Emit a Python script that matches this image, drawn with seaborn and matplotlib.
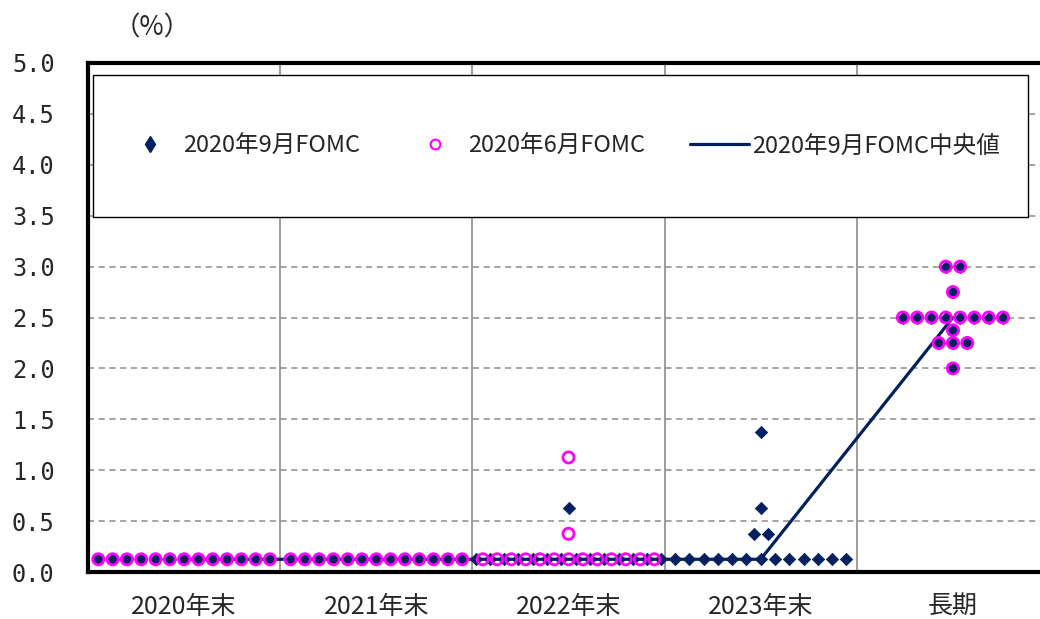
import numpy as np
import pandas as pd
import matplotlib
matplotlib.use("Agg")
import matplotlib.pyplot as plt
from matplotlib.lines import Line2D
from matplotlib.patches import Rectangle
from matplotlib.ticker import FixedLocator, FormatStrFormatter
import seaborn as sns

# --- data ---
categories = ['2020年末', '2021年末', '2022年末', '2023年末', '長期']

# Sept 2020 FOMC dots: category index, rate level, number of dots at that level
sep_cat = [0, 1, 2, 2, 3, 3, 3, 3, 4, 4, 4, 4, 4, 4]
sep_rate = [0.125, 0.125, 0.125, 0.625, 0.125, 0.375, 0.625, 1.375,
            2.0, 2.25, 2.375, 2.5, 2.75, 3.0]
sep_count = [13, 13, 14, 1, 13, 2, 1, 1, 1, 3, 1, 8, 1, 2]

# June 2020 FOMC dots
jun_cat = [0, 1, 2, 2, 2, 4, 4, 4, 4, 4, 4]
jun_rate = [0.125, 0.125, 0.125, 0.375, 1.125, 2.0, 2.25, 2.375, 2.5, 2.75, 3.0]
jun_count = [13, 13, 13, 1, 1, 1, 3, 1, 8, 1, 2]

# Sept 2020 FOMC median
sep_median = [0.125, 0.125, 0.125, 0.125, 2.5]

labels = ['2020年9月FOMC', '2020年6月FOMC', '2020年9月FOMC中央値']

NAVY = '#002060'
MAGENTA = '#FF00FF'
GRID = '#8C8C8C'
DOT_STEP = 0.0744  # horizontal spacing of dots within a category


def spread_dots(cats, rates, counts):
    """Expand (category, level, count) rows to one row per dot, centred on the category."""
    rows = []
    for c, r, n in zip(cats, rates, counts):
        for i in range(n):
            rows.append({'x': c + (i - (n - 1) / 2) * DOT_STEP, 'rate': r})
    return pd.DataFrame(rows)


sep_df = spread_dots(sep_cat, sep_rate, sep_count)
jun_df = spread_dots(jun_cat, jun_rate, jun_count)
med_df = pd.DataFrame({'x': range(len(categories)), 'rate': sep_median})

sns.set_style('white')
plt.rcParams['font.family'] = ['Noto Sans CJK JP', 'DejaVu Sans']

fig = plt.figure(figsize=(10.4, 6.19), dpi=100)
ax = fig.add_axes([88 / 1040, 47 / 619, (1049 - 88) / 1040, (572 - 63) / 619])

# grid
for y in np.arange(0.5, 5.0, 0.5):
    ax.axhline(y, color=GRID, lw=1.1, ls=(0, (4, 3)), zorder=0)
for xb in np.arange(0.5, len(categories) - 1, 1.0):
    ax.axvline(xb, color=GRID, lw=1.2, zorder=0)

sns.lineplot(data=med_df, x='x', y='rate', color=NAVY, lw=2.3, ax=ax, zorder=2)
sns.scatterplot(data=sep_df, x='x', y='rate', marker='D', s=40, color=NAVY,
                edgecolor=NAVY, linewidth=0.5, ax=ax, zorder=3)
sns.scatterplot(data=jun_df, x='x', y='rate', marker='o', s=64, color=MAGENTA,
                facecolors='none', edgecolor=MAGENTA, linewidth=2.0, ax=ax, zorder=4)

ax.set_xlim(-0.5, len(categories) - 0.5)
ax.set_ylim(0, 5)
ax.set_xlabel('')
ax.set_ylabel('')

ax.set_yticks(np.arange(0, 5.01, 0.5))
ax.yaxis.set_major_formatter(FormatStrFormatter('%.1f'))
ax.tick_params(axis='y', direction='in', length=5, width=1, pad=24, labelsize=17)
for t in ax.get_yticklabels():
    t.set_family('DejaVu Sans Mono')

ax.set_xticks(range(len(categories)))
ax.set_xticklabels(categories)
ax.xaxis.set_minor_locator(FixedLocator(np.arange(0.5, len(categories) - 1, 1.0)))
ax.tick_params(axis='x', which='major', length=0, pad=16, labelsize=18)
ax.tick_params(axis='x', which='minor', direction='in', length=5, width=1, color='black')

for side in ['left', 'bottom', 'top', 'right']:
    ax.spines[side].set_color('black')
    ax.spines[side].set_linewidth(3)

# legend box
x0, x1 = (93 - 88) / 961, (1028 - 88) / 961
y0, y1 = (572 - 217) / 509, (572 - 75) / 509
ax.add_patch(Rectangle((x0, y0), x1 - x0, y1 - y0, transform=ax.transAxes,
                       facecolor='white', edgecolor='black', lw=1, zorder=5))
handles = [
    Line2D([], [], marker='d', color=NAVY, ls='none', ms=8),
    Line2D([], [], marker='o', color=MAGENTA, mfc='none', ls='none', ms=7, mew=1.5),
    Line2D([], [], color=NAVY, lw=2.3),
]
leg = ax.legend(handles, labels, ncol=3, loc='center',
                bbox_to_anchor=((x0 + x1) / 2, (y0 + y1) / 2), frameon=False,
                fontsize=17, handlelength=2.5, handletextpad=0.15, columnspacing=1.9)
leg.set_zorder(6)

fig.text(152 / 1040, 1 - 28 / 619, '（%）', ha='center', va='center', fontsize=19)

fig.savefig('out.png', dpi=100)
plt.close(fig)
